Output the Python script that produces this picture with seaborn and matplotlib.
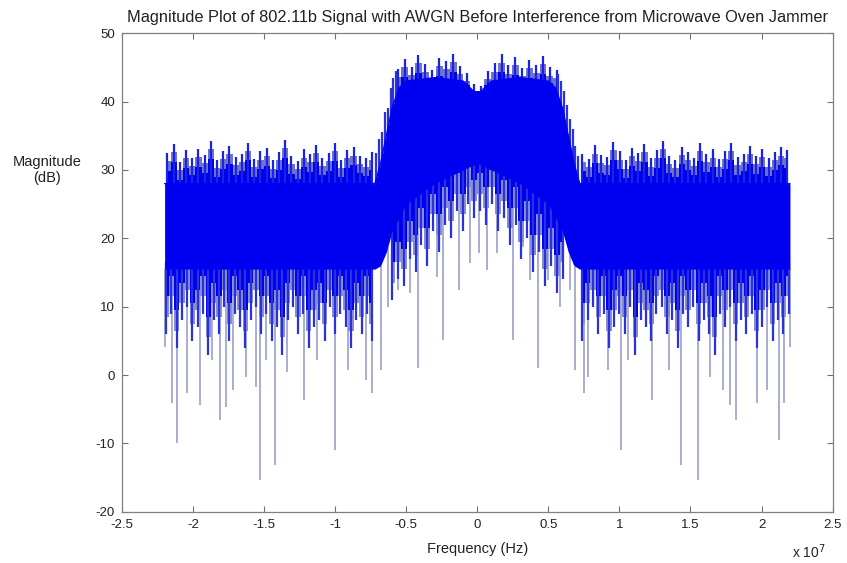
import numpy as np
import matplotlib
matplotlib.use('Agg')
import matplotlib.pyplot as plt
import seaborn as sns

# frequency in units of 1e7 Hz, magnitude in dB
band_freq = [-2.2, -1.5, -0.72, -0.68, -0.64, -0.6, -0.55, -0.5, -0.3, -0.1, 0.0,
             0.1, 0.3, 0.5, 0.55, 0.6, 0.64, 0.68, 0.72, 1.5, 2.2]
band_top = [28.0, 28.0, 28.0, 31, 35, 39, 42, 43, 43.5, 43, 41,
            43, 43.5, 43, 42, 39, 35, 31, 28.0, 28.0, 28.0]
band_bottom = [15.5, 15.5, 15.5, 16, 18, 21, 23, 25, 28, 30, 31,
               30, 28, 25, 23, 21, 18, 16, 15.5, 15.5, 15.5]

# upper tips of the noise
left_tips = [32.5, 33.8, 31.2, 32.9, 31.8, 33.1, 32.2, 34.2, 31.5, 32.8, 33.5, 31.9,
             32.4, 34.0, 31.6, 32.7, 33.2, 31.4, 32.6, 34.4, 32.0, 31.3, 33.0, 32.3,
             33.7, 31.8, 32.5, 33.9, 31.5, 32.9, 33.3, 32.1, 31.7, 32.6]
right_tips = [32.4, 31.6, 33.6, 32.2, 31.9, 34.1, 32.7, 31.4, 33.2, 32.5, 33.8, 31.7,
              32.9, 34.3, 32.1, 31.5, 33.4, 32.6, 31.8, 33.9, 32.3, 33.0, 31.6, 32.8,
              34.0, 31.9, 32.4, 33.5, 32.0, 33.1, 31.7, 32.6, 33.3, 32.9]
center_tips = [44.8, 46.2, 45.1, 46.8, 45.5, 44.6, 46.4, 45.9, 47.0, 45.2, 44.2, 42.5,
               42.3, 44.5, 45.6, 46.9, 45.3, 46.5, 44.9, 46.1, 45.4, 46.7, 45.0, 44.6]
shoulder_freq = [-0.71, -0.69, -0.67, -0.65, -0.63, -0.61, -0.59, -0.57,
                 0.57, 0.59, 0.61, 0.63, 0.65, 0.67, 0.69, 0.71]
shoulder_tips = [32.5, 34.5, 35.5, 38.5, 39.0, 42.0, 43.5, 44.5,
                 44.0, 43.0, 41.5, 39.5, 37.5, 36.0, 33.5, 32.0]

# short downward spikes just below the dense band
left_low = [6, 9, 4, 8, 10, 5, 7, 9, 3, 8, 6, 10, 5, 9, 7, 4, 8, 10, 6, 9,
            5, 7, 3, 8, 10, 6, 9, 4, 7, 8, 5, 10, 6, 9, 7, 4, 8, 6, 9, 5]
right_low = [5, 8, 10, 6, 9, 4, 7, 9, 6, 10, 3, 8, 7, 5, 9, 10, 6, 8, 4, 9,
             7, 10, 5, 8, 6, 3, 9, 7, 10, 5, 8, 6, 9, 4, 7, 10, 5, 8, 6, 9]
center_low = [11, 14, 13, 17, 15, 19, 16, 21, 18, 22, 20, 24, 21, 25, 23,
              24, 22, 25, 21, 23, 19, 22, 17, 20, 15, 18, 13, 16, 12, 14]

# deep downward spikes
dip_freq = [-2.20, -2.15, -2.11, -2.04, -1.95, -1.87, -1.81, -1.77, -1.72, -1.63,
            -1.56, -1.53, -1.49, -1.42, -1.34, -1.22, -1.13, -1.00, -0.91, -0.78,
            -0.74, -0.68, -0.63, -0.56, -0.47, -0.42, -0.35, -0.28, -0.24,
            -0.13, -0.05, 0.01, 0.07, 0.14, 0.25, 0.32, 0.37, 0.43, 0.50,
            0.58, 0.65, 0.69, 0.75, 0.78, 0.92, 1.01, 1.06, 1.23, 1.35,
            1.43, 1.55, 1.64, 1.73, 1.78, 1.82, 1.97, 2.04, 2.12, 2.16, 2.20]
dip_db = [4.1, -4.1, -10, -2.6, -4.4, 2.2, -6.6, -4.7, -2.2, -0.3,
          -1.8, -15.4, 2.2, -13.2, 0.4, -3.7, 2.2, -11, 0.7, -0.7,
          -2.6, 0.7, 10, 12.4, 12, 1, 19.7, 14.3, 5.1,
          12.4, 16.4, 17.8, 15.4, 17.8, 5.1, 18.7, 13.9, 1, 13.9,
          10, 12.4, 0.7, -2.6, -0.3, 0.7, -11, 2.2, -3.7, 0.7,
          -13.2, -15.4, -0.3, -2.2, -4.4, -6.6, -4.1, -2.2, -9.5, -4.1, 4.1]

xticks = [-2.5, -2, -1.5, -1, -0.5, 0, 0.5, 1, 1.5, 2, 2.5]
xtick_labels = ['-2.5', '-2', '-1.5', '-1', '-0.5', '0', '0.5', '1', '1.5', '2', '2.5']
yticks = [-20, -10, 0, 10, 20, 30, 40, 50]

sns.set_style('ticks')
plt.rcParams['font.family'] = ['Liberation Sans', 'DejaVu Sans']
plt.rcParams['axes.unicode_minus'] = False

BLUE = '#0000f0'
GREY = '#a3a7cd'

fig = plt.figure(figsize=(8.47, 5.63), dpi=100)
ax = fig.add_axes([0.144, 0.091, 0.839, 0.850])

# deep dips first, lightest colour
dip_base = np.interp(dip_freq, band_freq, band_bottom)
ax.vlines(dip_freq, dip_db, dip_base, color=GREY, lw=1.3, zorder=1)

# short dips below the band: grey-blue steps with blue spikes
for vals, lo, hi in [(left_low, -2.19, -0.74), (right_low, 0.74, 2.19),
                     (center_low, -0.6, 0.6)]:
    vals = np.array(vals, dtype=float)
    pos = np.linspace(lo, hi, len(vals))
    base = np.interp(pos, band_freq, band_bottom)
    ax.fill_between(pos, vals + 2.5, base + 1, step='mid',
                    color='#8a8fd2', lw=0, zorder=2)
    ax.fill_between(pos, np.minimum(vals + 5.5, base), base + 1, step='mid',
                    color=BLUE, lw=0, zorder=2)
    ax.vlines(pos, vals, base + 1, color='#2a32de', lw=1.6, zorder=2)

# upper tips above the band
for vals, lo, hi in [(left_tips, -2.18, -0.74), (right_tips, 0.74, 2.18),
                     (center_tips, -0.56, 0.56)]:
    vals = np.array(vals, dtype=float)
    pos = np.linspace(lo, hi, len(vals))
    base = np.interp(pos, band_freq, band_top)
    ax.fill_between(pos, base - 1, vals - 1.2, step='mid',
                    color='#6e74cc', lw=0, zorder=2)
    ax.fill_between(pos, base - 1, np.maximum(vals - 2.6, base), step='mid',
                    color=BLUE, lw=0, zorder=2)
    ax.vlines(pos, base - 1, vals, color='#1a22e4', lw=1.6, zorder=2)
sh_base = np.interp(shoulder_freq, band_freq, band_top)
ax.vlines(shoulder_freq, sh_base - 1, shoulder_tips, color='#2a32dc', lw=1.6, zorder=2)

# dense band of the spectrum
ax.fill_between(band_freq, band_bottom, band_top, color=BLUE, lw=0, zorder=3)
sns.lineplot(x=band_freq, y=band_top, color=BLUE, lw=1, sort=False,
             estimator=None, ax=ax, zorder=3)

ax.set_xlim(-2.5, 2.5)
ax.set_ylim(-20, 50)
ax.set_xticks(xticks)
ax.set_xticklabels(xtick_labels)
ax.set_yticks(yticks)
ax.tick_params(direction='in', top=True, right=True, length=4, width=0.8,
               color='#707070', labelsize=9.5, labelcolor='#222222', pad=5)
for s in ax.spines.values():
    s.set_color('#808080')
    s.set_linewidth(0.9)

ax.set_title('Magnitude Plot of 802.11b Signal with AWGN Before Interference from Microwave Oven Jammer',
             fontsize=11.8, pad=8, color='#222222')
ax.set_xlabel('Frequency (Hz)', fontsize=10.5, color='#222222', labelpad=8)
ax.set_ylabel('Magnitude\n(dB)', fontsize=10.5, color='#222222', rotation=0,
              ha='center', va='center')
ax.yaxis.set_label_coords(-0.105, 0.714)
ax.text(0.99, -0.065, r'x 10$^7$', transform=ax.transAxes, fontsize=10,
        color='#222222', ha='right', va='top')

fig.savefig('out.png', dpi=100)
